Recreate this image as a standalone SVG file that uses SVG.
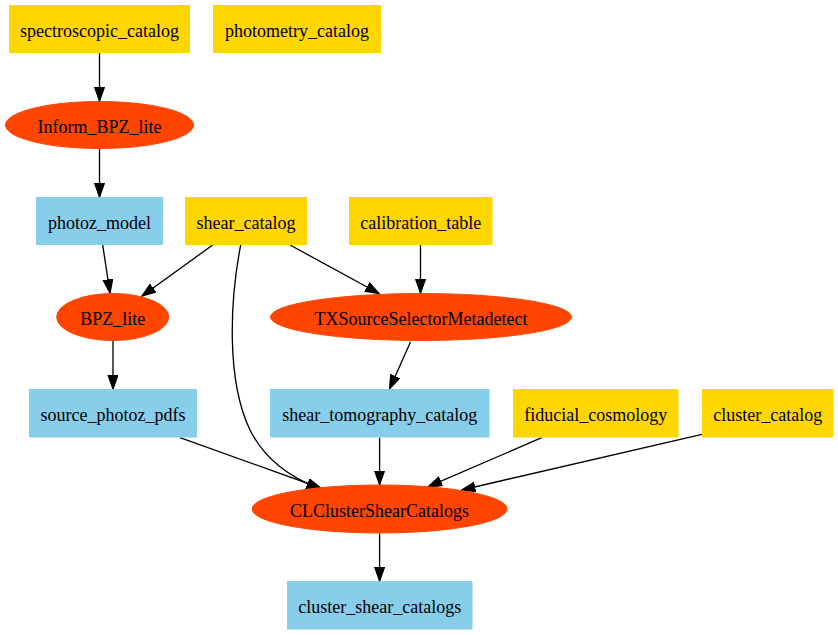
<svg xmlns="http://www.w3.org/2000/svg" width="838" height="635" viewBox="0 0 838 635">
<style>
.inp{fill:#FFD700;stroke:#FFD700}
.out{fill:#87CEEB;stroke:#87CEEB}
.stage{fill:#FF4500;stroke:#FF4500}
text{font-family:"Liberation Serif","Times New Roman",serif;font-size:18px;fill:#000;text-anchor:middle}
.edge{fill:none;stroke:#000;stroke-width:1.33;marker-end:url(#ah)}
</style>
<defs>
<marker id="ah" markerUnits="userSpaceOnUse" markerWidth="15" markerHeight="11" viewBox="-0.5 -0.5 15 11" refX="13.3" refY="4.67" orient="auto">
<path d="M0,0 L13.3,4.67 L0,9.33 Z" fill="#000" stroke="#000" stroke-width="1.33"/>
</marker>
</defs>
<rect width="838" height="635" fill="#fff"/>
<g id="edges">
<path class="edge" d="M99.5,53 L99.5,101"/>
<path class="edge" d="M99.5,149 L99.5,197"/>
<path class="edge" d="M102.7,245 L110,293"/>
<path class="edge" d="M212.7,245 L142,296"/>
<path class="edge" d="M240.7,245 C230,300 226,380 250,430 C265,460 290,477 320,489"/>
<path class="edge" d="M290,245 L379,293.5"/>
<path class="edge" d="M420.5,245 L420.5,293"/>
<path class="edge" d="M113,341 L113,389"/>
<path class="edge" d="M410.6,341.7 L389.6,388.7"/>
<path class="edge" d="M180,437.7 L320.7,488"/>
<path class="edge" d="M379.6,437.7 L379.6,484.7"/>
<path class="edge" d="M541.7,437.7 L428.3,486.7"/>
<path class="edge" d="M702,434.3 L461.7,490"/>
<path class="edge" d="M379.6,533.7 L379.6,581"/>
</g>
<g id="spectroscopic_catalog"><rect class="inp" x="9.5" y="5.5" width="180" height="47"/><text x="99.5" y="37">spectroscopic_catalog</text></g>
<g id="photometry_catalog"><rect class="inp" x="213.5" y="5.5" width="167" height="47"/><text x="297" y="37">photometry_catalog</text></g>
<g id="Inform_BPZ_lite"><ellipse class="stage" cx="99.5" cy="125" rx="94" ry="23.5"/><text x="99.5" y="133">Inform_BPZ_lite</text></g>
<g id="photoz_model"><rect class="out" x="36.5" y="197.5" width="126" height="47"/><text x="99.5" y="229">photoz_model</text></g>
<g id="shear_catalog"><rect class="inp" x="185.5" y="197.5" width="121" height="47"/><text x="246" y="229">shear_catalog</text></g>
<g id="calibration_table"><rect class="inp" x="349.5" y="197.5" width="142.5" height="47"/><text x="420.7" y="229">calibration_table</text></g>
<g id="BPZ_lite"><ellipse class="stage" cx="112.7" cy="317" rx="56" ry="23.5"/><text x="112.7" y="325">BPZ_lite</text></g>
<g id="TXSourceSelectorMetadetect"><ellipse class="stage" cx="421" cy="317" rx="150.5" ry="23.5"/><text x="421" y="325">TXSourceSelectorMetadetect</text></g>
<g id="source_photoz_pdfs"><rect class="out" x="29.5" y="389.5" width="167" height="47.5"/><text x="113" y="421">source_photoz_pdfs</text></g>
<g id="shear_tomography_catalog"><rect class="out" x="270.5" y="389.5" width="218.5" height="47.5"/><text x="379.7" y="421">shear_tomography_catalog</text></g>
<g id="fiducial_cosmology"><rect class="inp" x="513.5" y="389.5" width="164.5" height="47.5"/><text x="595.7" y="421">fiducial_cosmology</text></g>
<g id="cluster_catalog"><rect class="inp" x="702.5" y="389.5" width="130.5" height="47.5"/><text x="767.7" y="421">cluster_catalog</text></g>
<g id="CLClusterShearCatalogs"><ellipse class="stage" cx="379.6" cy="509" rx="127.5" ry="24"/><text x="379.6" y="517">CLClusterShearCatalogs</text></g>
<g id="cluster_shear_catalogs"><rect class="out" x="287.5" y="581.5" width="184.5" height="47.5"/><text x="379.7" y="613">cluster_shear_catalogs</text></g>
</svg>
